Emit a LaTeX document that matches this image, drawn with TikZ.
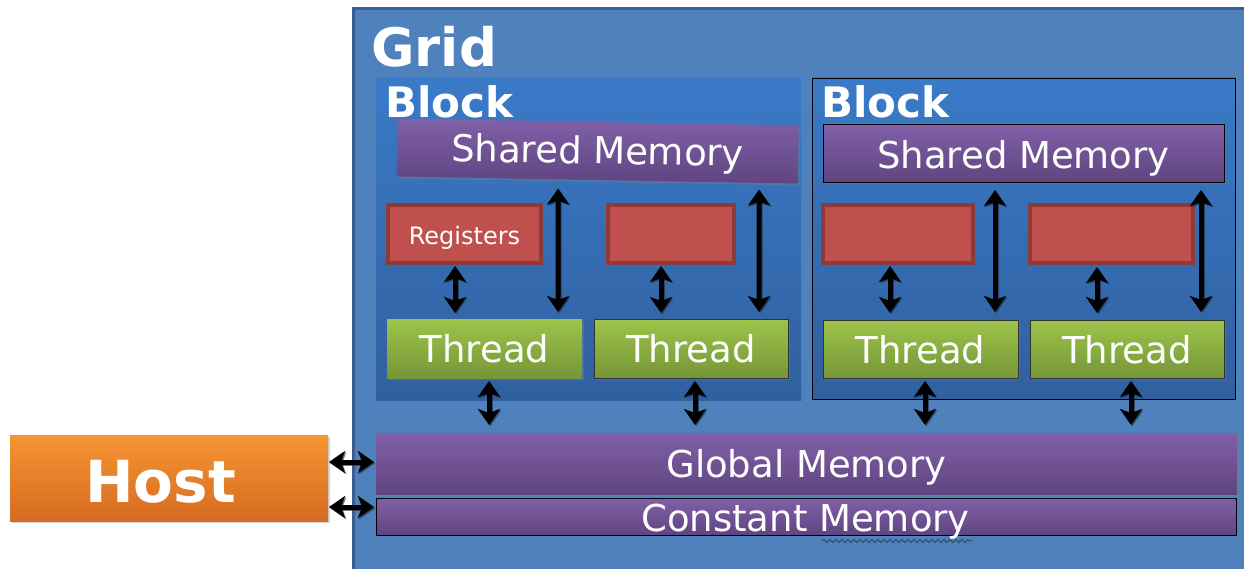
\documentclass[tikz,border=0pt]{standalone}
\usepackage{fontspec}
\setmainfont{DejaVu Sans}
\usetikzlibrary{arrows.meta,calc,shadows,decorations.pathmorphing}
\definecolor{gridblue}{HTML}{4F81BD}
\definecolor{gridborder}{HTML}{3A5F8E}
\definecolor{blockT}{HTML}{3A7AC7}
\definecolor{blockB}{HTML}{30609F}
\definecolor{purpT}{HTML}{8160A8}
\definecolor{purpB}{HTML}{5F4580}
\definecolor{regfill}{HTML}{C0504D}
\definecolor{regborder}{HTML}{8E3A38}
\definecolor{greenT}{HTML}{9DC44A}
\definecolor{greenB}{HTML}{769638}
\definecolor{orangeT}{HTML}{F79433}
\definecolor{orangeB}{HTML}{D66C20}
\definecolor{squig}{HTML}{3A5576}
\tikzset{dtip/.tip={Stealth[length=16pt,width=22pt,inset=4pt]}}
\begin{document}
\begin{tikzpicture}[x=1pt,y=-1pt,
  box/.style={inner sep=0pt, outer sep=0pt, text=white},
  shad/.style={drop shadow={shadow xshift=1.5pt, shadow yshift=-2pt, opacity=0.35}},
  memfont/.style={font=\fontsize{37}{44}\selectfont},
  smem/.style={box, memfont, minimum width=401pt, minimum height=58pt,
    top color=purpT, bottom color=purpB, text depth=0pt, shad},
  reg/.style={box, font=\fontsize{24}{28}\selectfont, draw=regborder, line width=4pt,
    fill=regfill, minimum height=58pt, text height=20pt, text depth=0pt},
  thread/.style={box, memfont, top color=greenT, bottom color=greenB,
    text height=28pt, text depth=0pt, shad},
  biglbl/.style={inner sep=0pt, text=white, font=\bfseries\fontsize{#1}{#1}\selectfont},
  dbl/.style={dtip-dtip, line width=5pt, black,
    preaction={draw=black!70!gridblue, line width=5pt, opacity=0.6,
      transform canvas={shift={(1.2pt,-1.2pt)}}}}
]
\useasboundingbox (0,0) rectangle (1244,569);
\clip (0,0) rectangle (1244,569);

% Grid
\node[box, draw=gridborder, line width=3pt, fill=gridblue, minimum width=910pt,
  minimum height=582pt] (grid) at (808,300) {};
\node[biglbl=53, anchor=base west] (gridlbl) at (371,67) {Grid};

% Blocks
\node[box, top color=blockT, bottom color=blockB, minimum width=425pt,
  minimum height=322pt] (lblock) at (588.5,239) {};
\node[box, top color=blockT, bottom color=blockB, draw=black, line width=0.8pt,
  minimum width=423pt, minimum height=321pt] (rblock) at (1023.5,238.5) {};
\node[biglbl=42, anchor=base west] (blbl1) at (385,118) {Block};
\node[biglbl=42, anchor=base west] (blbl2) at (821,118) {Block};

% Shared memories
\node[smem, rotate=-1, text height=26pt] (sm1) at (597.75,151) {Shared Memory};
\node[smem, draw=black, line width=0.8pt, text height=32pt] (sm2) at (1023.5,153) {Shared Memory};

% Registers
\node[reg, minimum width=153pt] (reg1) at (464.5,234) {Registers};
\node[reg, minimum width=126pt] (reg2) at (671,234) {};
\node[reg, minimum width=150pt] (reg3) at (898,234) {};
\node[reg, minimum width=163pt] (reg4) at (1111.5,234) {};

% Threads
\node[thread, minimum width=195pt, minimum height=59pt] (th1) at (484.5,348.5) {Thread};
\node[thread, draw=black!80, line width=0.7pt, minimum width=194pt, minimum height=59pt] (th2) at (691,348.5) {Thread};
\node[thread, draw=black!80, line width=0.7pt, minimum width=195pt, minimum height=58pt] (th3) at (920.5,349) {Thread};
\node[thread, draw=black!80, line width=0.7pt, minimum width=194pt, minimum height=58pt] (th4) at (1127,349) {Thread};

% Global and constant memory
\node[box, memfont, top color=purpT, bottom color=purpB, minimum width=861pt,
  minimum height=61pt, text height=27pt, text depth=0pt, shad] (global) at (806.5,463.5) {Global Memory};
\node[box, top color=purpT, bottom color=purpB, draw=black, line width=0.8pt,
  minimum width=860pt, minimum height=37pt] (const) at (806,516.5) {};
\draw[decorate, decoration={snake, amplitude=1.6pt, segment length=6pt},
  line width=1.4pt, draw=squig] (822,541) -- (972,541);
\node[box, memfont, anchor=base] (constlbl) at (805.5,531) {Constant Memory};

% Host
\node[box, top color=orangeT, bottom color=orangeB, minimum width=318pt,
  minimum height=86pt, shad] (host) at (169,478) {};
\node[biglbl=58, anchor=base] (hostlbl) at (160.5,502) {Host};

% Arrows: registers <-> threads
\draw[dbl] ($(reg1.south)+(-9.5,3)$) -- ($(th1.north)+(-29.5,-6)$);
\draw[dbl] ($(reg2.south)+(-10,3)$) -- ($(th2.north)+(-30,-6)$);
\draw[dbl] ($(reg3.south)+(-8,3)$) -- ($(th3.north)+(-30.5,-7)$);
\draw[dbl] ($(reg4.south)+(-14.5,4)$) -- ($(th4.north)+(-30,-7)$);
% shared memory <-> threads
\draw[dbl] ($(sm1.south)+(-39.2,8.5)$) -- ($(th1.north)+(73.5,-7)$);
\draw[dbl] ($(sm1.south)+(161.8,9.5)$) -- ($(th2.north)+(68,-7)$);
\draw[dbl] ($(sm2.south)+(-28.5,8)$) -- ($(th3.north)+(74.5,-8)$);
\draw[dbl] ($(sm2.south)+(177.5,8)$) -- ($(th4.north)+(74,-8)$);
% threads <-> global
\draw[dbl] ($(th1.south)+(4.5,3)$) -- ($(global.north)+(-317.5,-8)$);
\draw[dbl] ($(th2.south)+(4,3)$) -- ($(global.north)+(-111.5,-8)$);
\draw[dbl] ($(th3.south)+(4.5,3)$) -- ($(global.north)+(118.5,-8)$);
\draw[dbl] ($(th4.south)+(4,3)$) -- ($(global.north)+(324.5,-8)$);
% host <-> memories
\draw[dbl] ($(host.east)+(1,-16)$) -- ($(global.west)+(-2,-1.5)$);
\draw[dbl] ($(host.east)+(1,29)$) -- ($(const.west)+(-2,-9.5)$);
\end{tikzpicture}
\end{document}
